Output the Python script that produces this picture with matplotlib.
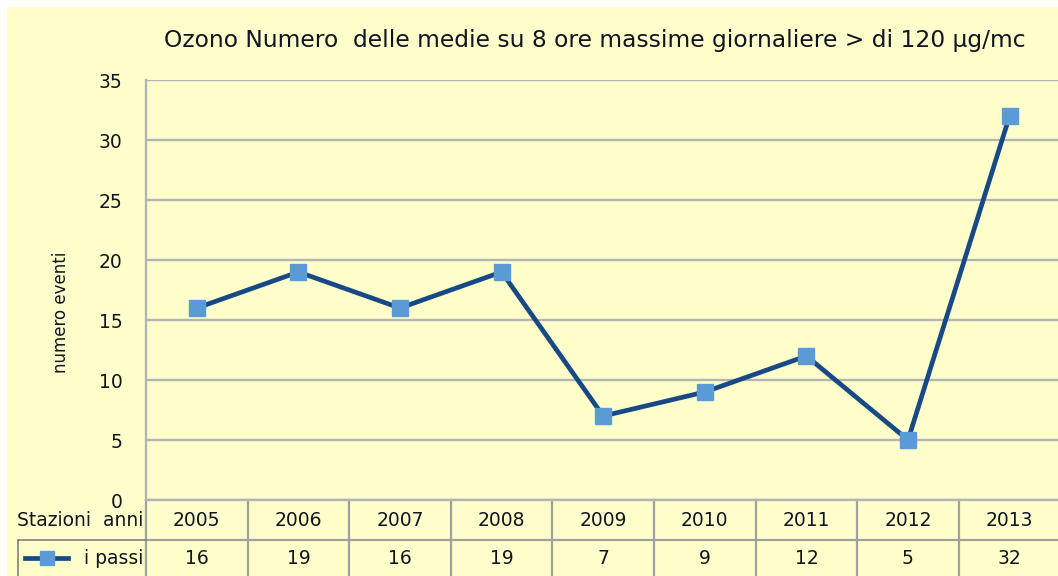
import matplotlib
matplotlib.use("Agg")
import matplotlib.pyplot as plt
from matplotlib.patches import Rectangle
from matplotlib.lines import Line2D
import matplotlib.transforms as mtransforms

years = ["2005", "2006", "2007", "2008", "2009", "2010", "2011", "2012", "2013"]
values = [16, 19, 16, 19, 7, 9, 12, 5, 32]
series_name = "i passi"
row_header = "Stazioni  anni"
title = "Ozono Numero  delle medie su 8 ore massime giornaliere > di 120 µg/mc"
ylabel = "numero eventi"
yticks = [0, 5, 10, 15, 20, 25, 30, 35]

BG = "#FFFFCC"
TXT = "#10151F"
GRID = "#B4B4B4"
LINE = "#174A84"
MARK = "#5B9BD5"
FS = 13.5

W, H = 1058, 576
fig = plt.figure(figsize=(W / 100, H / 100), dpi=100)
fig.patch.set_facecolor("white")
fig.patches.append(Rectangle((7 / W, 0), 1, 1 - 7 / H, transform=fig.transFigure,
                             facecolor=BG, edgecolor="none", zorder=-10))

left = 146 / W
bottom = 1 - 500 / H
top = 1 - 80 / H
width = 9 * 101.6 / W
ax = fig.add_axes([left, bottom, width, top - bottom])
ax.set_facecolor(BG)
ax.patch.set_alpha(0)

x = list(range(len(years)))
ax.plot(x, values, color=LINE, lw=3.4, marker="s", markersize=11,
        markerfacecolor=MARK, markeredgecolor=MARK, zorder=5, clip_on=False)

ax.set_xlim(-0.5, len(years) - 0.5)
ax.set_ylim(0, 35)
ax.set_yticks(yticks)
ax.set_yticklabels([str(t) for t in yticks], fontsize=FS, color=TXT)
ax.set_xticks([])
ax.tick_params(axis="y", length=0, pad=17)
ax.grid(axis="y", color=GRID, lw=1.7)
ax.set_axisbelow(True)
for s in ["top", "right"]:
    ax.spines[s].set_visible(False)
for s in ["left", "bottom"]:
    ax.spines[s].set_color(GRID)
    ax.spines[s].set_linewidth(1.7)

ax.set_ylabel(ylabel, fontsize=12, color=TXT)
ax.yaxis.set_label_coords((70 - 146) / (width * W), 0.448)
fig.text(595 / W, 1 - 40 / H, title, ha="center", va="center", fontsize=16.8, color=TXT)

# data table below axis
trans = mtransforms.blended_transform_factory(ax.transData, ax.transAxes)
ph = 420.0
y_hdr = -21 / ph
y_mid = -40 / ph
y_val = -58 / ph
y_bot = -80 / ph
for i in range(len(years) + 1):
    xb = i - 0.5
    ax.add_line(Line2D([xb, xb], [0, y_bot], transform=trans, color="#A0A0A0",
                       lw=1.6, clip_on=False))
ax.add_line(Line2D([0, 1], [y_mid, y_mid], transform=ax.transAxes, color="#A0A0A0",
                   lw=1.6, clip_on=False))
ax.add_line(Line2D([(18 - 146) / (width * W), 0], [y_mid, y_mid], transform=ax.transAxes,
                   color="#808080", lw=1.2, clip_on=False))
ax.add_line(Line2D([(18 - 146) / (width * W)] * 2, [y_mid, y_bot], transform=ax.transAxes,
                   color="#808080", lw=1.2, clip_on=False))
for i, (yr, v) in enumerate(zip(years, values)):
    ax.text(i, y_hdr, yr, transform=trans, ha="center", va="center", fontsize=FS, color=TXT)
    ax.text(i, y_val, str(v), transform=trans, ha="center", va="center", fontsize=FS, color=TXT)

ax.text(-3 / (width * W), y_hdr, row_header, transform=ax.transAxes, ha="right", va="center",
        fontsize=FS, color=TXT)
ax.text(-3 / (width * W), y_val, series_name, transform=ax.transAxes, ha="right", va="center",
        fontsize=FS, color=TXT)
lx0 = (25 - 146) / (width * W)
lx1 = (68 - 146) / (width * W)
ax.add_line(Line2D([lx0, lx1], [y_val, y_val], transform=ax.transAxes, color=LINE, lw=3.4,
                   clip_on=False))
ax.add_line(Line2D([(lx0 + lx1) / 2], [y_val], transform=ax.transAxes, marker="s",
                   markersize=10, markerfacecolor=MARK, markeredgecolor=MARK, clip_on=False))

fig.savefig("out.png", dpi=100, facecolor=fig.get_facecolor())
